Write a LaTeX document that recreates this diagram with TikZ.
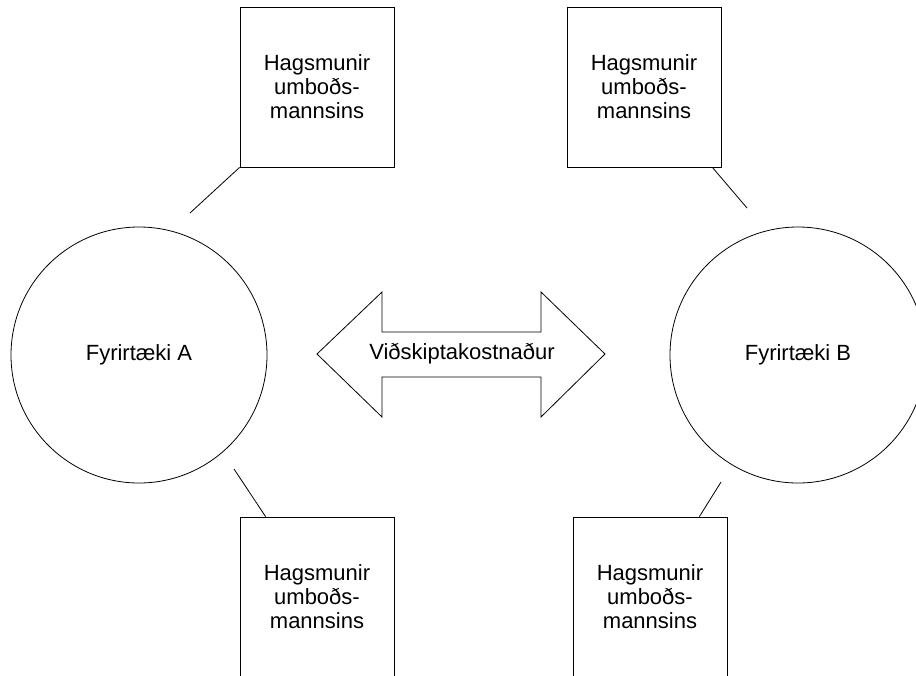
\documentclass[tikz,border=0pt]{standalone}
\usepackage{fontspec}
\setmainfont{Liberation Sans}

\begin{document}
\begin{tikzpicture}[x=1pt,y=-1pt,line width=0.8pt,font=\fontsize{22}{24}\selectfont,
    interest/.style={rectangle,draw,minimum width=154pt,minimum height=160pt,align=center,inner sep=0pt},
    firm/.style={circle,draw,minimum size=256pt,inner sep=0pt}]
    \clip (0,0) rectangle (916,675);

    \node[firm] (A) at (139,355) {Fyrirtæki A};
    \node[firm] (B) at (798,355) {Fyrirtæki B};

    \node[interest] (TL) at (317,87) {Hagsmunir\\umboðs-\\mannsins};
    \node[interest] (TR) at (644,87) {Hagsmunir\\umboðs-\\mannsins};
    \node[interest] (BL) at (317,597) {Hagsmunir\\umboðs-\\mannsins};
    \node[interest] (BR) at (650,597) {Hagsmunir\\umboðs-\\mannsins};

    % free ends of the connectors, short of the circles
    \coordinate (tlend) at (190,213);
    \coordinate (trend) at (747,208);
    \coordinate (blend) at (234,469);
    \coordinate (brend) at (721,482);

    \draw (TL.south west) -- (tlend);
    \draw ([xshift=-9pt]TR.south east) -- (trend);
    \draw ([xshift=26pt]BL.north west) -- (blend);
    \draw ([xshift=-28pt]BR.north east) -- (brend);

    % double arrow between the firms
    \draw (317,354) -- (382,292) -- (382,332) -- (541,332) -- (541,292) -- (605,354)
      -- (541,417) -- (541,377) -- (382,377) -- (382,417) -- cycle;
    \node (cost) at (462,354) {Viðskiptakostnaður};
\end{tikzpicture}
\end{document}
